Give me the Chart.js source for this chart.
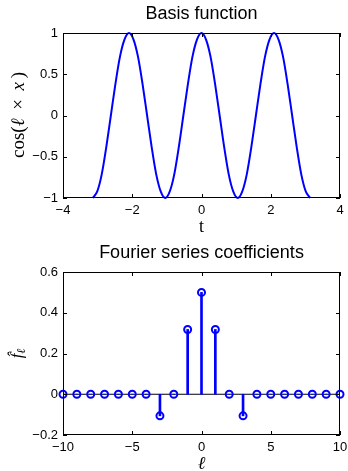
<!DOCTYPE html>
<html>
<head>
<meta charset="utf-8">
<script src="https://cdn.jsdelivr.net/npm/chart.js@4/dist/chart.umd.min.js"></script>
<style>
  html, body { margin: 0; padding: 0; background: #fff; }
  canvas { display: block; }
</style>
</head>
<body>
<canvas id="top" width="348" height="236"></canvas>
<canvas id="bottom" width="348" height="235"></canvas>
<script>
// top panel: basis function samples
const tValues = [-3.142, -3.011, -2.880, -2.749, -2.618, -2.487, -2.356, -2.225, -2.094,
  -1.963, -1.833, -1.702, -1.571, -1.440, -1.309, -1.178, -1.047, -0.916, -0.785, -0.654,
  -0.524, -0.393, -0.262, -0.131, 0, 0.131, 0.262, 0.393, 0.524, 0.654, 0.785, 0.916, 1.047,
  1.178, 1.309, 1.440, 1.571, 1.702, 1.833, 1.963, 2.094, 2.225, 2.356, 2.487, 2.618, 2.749,
  2.880, 3.011, 3.142];
const basisValues = [-1, -0.92, -0.71, -0.38, 0, 0.38, 0.71, 0.92, 1,
  0.92, 0.71, 0.38, 0, -0.38, -0.71, -0.92, -1, -0.92, -0.71, -0.38,
  0, 0.38, 0.71, 0.92, 1, 0.92, 0.71, 0.38, 0, -0.38, -0.71, -0.92, -1,
  -0.92, -0.71, -0.38, 0, 0.38, 0.71, 0.92, 1, 0.92, 0.71, 0.38, 0, -0.38,
  -0.71, -0.92, -1];
const topXTicks = [-4, -2, 0, 2, 4];
const topYTicks = [-1, -0.5, 0, 0.5, 1];

// bottom panel: Fourier coefficients
const ells = [-10, -9, -8, -7, -6, -5, -4, -3, -2, -1, 0, 1, 2, 3, 4, 5, 6, 7, 8, 9, 10];
const coeffs = [0, 0, 0, 0, 0, 0, 0, -0.106, 0, 0.318, 0.5, 0.318, 0, -0.106, 0, 0, 0, 0, 0, 0, 0];
const botXTicks = [-10, -5, 0, 5, 10];
const botYTicks = [-0.2, 0, 0.2, 0.4, 0.6];

const BLUE = '#0000ff';
const SANS = '"Liberation Sans", Arial, sans-serif';
const SERIF = '"Liberation Serif", "DejaVu Serif", serif';

function fmt(v) {
  const s = String(Number(v.toFixed(2)));
  return s.replace('-', '\u2212');
}

// draws a row of text pieces centred on (x, y), optionally rotated
function drawPieces(ctx, pieces, x, y, rot) {
  ctx.save();
  ctx.translate(x, y);
  if (rot) ctx.rotate(rot);
  let total = 0;
  pieces.forEach(p => { ctx.font = p.font; total += ctx.measureText(p.text).width; });
  let cx = -total / 2;
  ctx.textBaseline = 'middle';
  ctx.textAlign = 'left';
  ctx.fillStyle = '#000';
  pieces.forEach(p => {
    ctx.font = p.font;
    ctx.fillText(p.text, cx, p.dy || 0);
    cx += ctx.measureText(p.text).width;
  });
  ctx.restore();
}

// MATLAB style box with inward ticks plus titles
function framePlugin(labels) {
  return {
    id: 'frame',
    afterDraw(chart) {
      const ctx = chart.ctx;
      const a = chart.chartArea;
      const xs = chart.scales.x, ys = chart.scales.y;
      ctx.save();
      ctx.strokeStyle = '#000';
      ctx.lineWidth = 1;
      ctx.strokeRect(a.left + 0.5, a.top + 0.5, a.right - a.left - 1, a.bottom - a.top - 1);
      ctx.beginPath();
      xs.ticks.forEach(t => {
        const px = Math.round(xs.getPixelForValue(t.value)) + 0.5;
        ctx.moveTo(px, a.bottom); ctx.lineTo(px, a.bottom - 4);
        ctx.moveTo(px, a.top); ctx.lineTo(px, a.top + 4);
      });
      ys.ticks.forEach(t => {
        const py = Math.round(ys.getPixelForValue(t.value)) + 0.5;
        ctx.moveTo(a.left, py); ctx.lineTo(a.left + 4, py);
        ctx.moveTo(a.right, py); ctx.lineTo(a.right - 4, py);
      });
      ctx.stroke();
      ctx.restore();
      labels(ctx, a);
    }
  };
}

function axes(xTicks, yTicks, area, height) {
  return {
    x: {
      type: 'linear', min: xTicks[0], max: xTicks[xTicks.length - 1], offset: false,
      afterBuildTicks: s => { s.ticks = xTicks.map(v => ({ value: v })); },
      afterFit: s => { s.height = height - area.bottom; s.paddingLeft = 0; s.paddingRight = 0; },
      grid: { display: false, drawTicks: false, offset: false },
      border: { display: false },
      ticks: { padding: 5, color: '#000', maxRotation: 0, font: { family: SANS, size: 13 }, callback: fmt }
    },
    y: {
      type: 'linear', min: yTicks[0], max: yTicks[yTicks.length - 1],
      afterBuildTicks: s => { s.ticks = yTicks.map(v => ({ value: v })); },
      afterFit: s => { s.width = area.left; s.paddingTop = 0; s.paddingBottom = 0; },
      grid: { display: false, drawTicks: false },
      border: { display: false },
      ticks: { padding: 5, color: '#000', font: { family: SANS, size: 13 }, callback: fmt }
    }
  };
}

const baseOpts = {
  responsive: false,
  animation: false,
  plugins: { legend: { display: false }, tooltip: { enabled: false } }
};

// top chart
const topArea = { left: 63, right: 340, top: 33, bottom: 198 };
new Chart(document.getElementById('top'), {
  type: 'line',
  data: {
    datasets: [{
      data: tValues.map((t, i) => ({ x: t, y: basisValues[i] })),
      borderColor: BLUE, borderWidth: 2, pointRadius: 0,
      cubicInterpolationMode: 'monotone', clip: 4
    }]
  },
  options: Object.assign({}, baseOpts, {
    layout: { padding: { top: topArea.top, right: 348 - topArea.right, left: 0, bottom: 0 } },
    scales: axes(topXTicks, topYTicks, topArea, 236)
  }),
  plugins: [framePlugin((ctx, a) => {
    drawPieces(ctx, [{ text: 'Basis function', font: '18px ' + SANS }], (a.left + a.right) / 2, 14);
    drawPieces(ctx, [{ text: 't', font: '18px ' + SERIF }], (a.left + a.right) / 2, 227);
    drawPieces(ctx, [
      { text: 'cos(', font: '19px ' + SERIF },
      { text: '\u2113', font: 'italic 19px ' + SERIF },
      { text: '\u2009 \u00d7 \u2009', font: '19px ' + SERIF },
      { text: 'x', font: 'italic 19px ' + SERIF },
      { text: '\u2009)', font: '19px ' + SERIF }
    ], 19, 115, -Math.PI / 2);
  })]
});

// bottom chart
const botArea = { left: 63, right: 340, top: 36, bottom: 199 };
new Chart(document.getElementById('bottom'), {
  type: 'bar',
  data: {
    datasets: [
      {
        type: 'line', order: 1,
        data: ells.map((l, i) => ({ x: l, y: coeffs[i] })),
        showLine: false, pointStyle: 'circle', pointRadius: 3.5,
        pointBorderWidth: 2, pointBorderColor: BLUE, pointBackgroundColor: 'rgba(0,0,0,0)', clip: 6
      },
      {
        type: 'bar', order: 2,
        data: ells.map((l, i) => ({ x: l, y: coeffs[i] })),
        backgroundColor: BLUE, borderWidth: 0, barThickness: 2
      },
      {
        type: 'line', order: 3,
        data: [{ x: ells[0], y: 0 }, { x: ells[ells.length - 1], y: 0 }],
        borderColor: '#000', borderWidth: 1, pointRadius: 0
      }
    ]
  },
  options: Object.assign({}, baseOpts, {
    layout: { padding: { top: botArea.top, right: 348 - botArea.right, left: 0, bottom: 0 } },
    scales: axes(botXTicks, botYTicks, botArea, 235)
  }),
  plugins: [framePlugin((ctx, a) => {
    drawPieces(ctx, [{ text: 'Fourier series coefficients', font: '18px ' + SANS }], (a.left + a.right) / 2, 17);
    drawPieces(ctx, [{ text: '\u2113', font: 'italic 18px ' + SERIF }], (a.left + a.right) / 2, 228);
    drawPieces(ctx, [
      { text: 'f\u0302', font: 'italic 17px ' + SERIF },
      { text: '\u2113', font: 'italic 12px ' + SERIF, dy: 4 }
    ], 18, (a.top + a.bottom) / 2, -Math.PI / 2);
  })]
});
</script>
</body>
</html>
